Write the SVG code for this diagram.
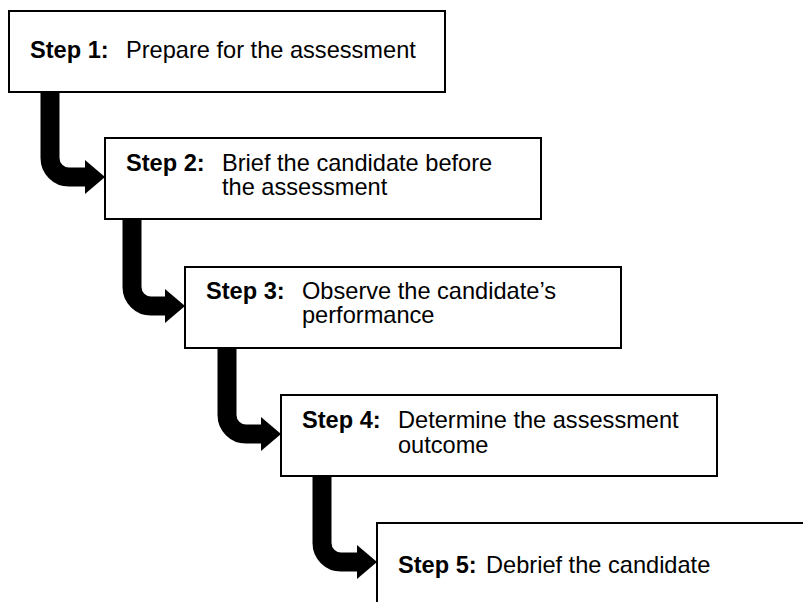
<svg xmlns="http://www.w3.org/2000/svg" width="803" height="602" viewBox="0 0 803 602">
<style>
.box{fill:#fff;stroke:#000;stroke-width:2}
.t{font-family:"Liberation Sans",Arial,sans-serif;font-size:23.6px;fill:#000}
.b{font-weight:bold}
.c{fill:none;stroke:#000;stroke-width:19;stroke-linecap:butt}
</style>
<defs>
<marker id="ah" markerUnits="userSpaceOnUse" markerWidth="21" markerHeight="34" refX="1" refY="17" orient="auto" viewBox="0 0 21 34">
<path d="M0,0 L20,17 L0,34 Z" fill="#000"/>
</marker>
</defs>
<rect width="803" height="602" fill="#fff"/>
<g id="connectors">
<path class="c" marker-end="url(#ah)" d="M50,91 V158 A19,19 0 0 0 69,177 H86"/>
<path class="c" marker-end="url(#ah)" d="M132,218 V287 A19,19 0 0 0 151,306 H166"/>
<path class="c" marker-end="url(#ah)" d="M227,346 V415 A19,19 0 0 0 246,434 H262"/>
<path class="c" marker-end="url(#ah)" d="M322,475 V543 A19,19 0 0 0 341,562 H358"/>
</g>
<g id="step1">
<rect class="box" x="9" y="11" width="436" height="81"/>
<text class="t b" x="30" y="58">Step 1:</text>
<text class="t" x="126" y="58">Prepare for the assessment</text>
</g>
<g id="step2">
<rect class="box" x="105" y="138" width="436" height="81"/>
<text class="t b" x="126" y="171">Step 2:</text>
<text class="t" x="222" y="171">Brief the candidate before</text>
<text class="t" x="222" y="195">the assessment</text>
</g>
<g id="step3">
<rect class="box" x="185" y="267" width="436" height="81"/>
<text class="t b" x="206" y="299">Step 3:</text>
<text class="t" x="302" y="299">Observe the candidate’s</text>
<text class="t" x="302" y="323">performance</text>
</g>
<g id="step4">
<rect class="box" x="281" y="395" width="436" height="81"/>
<text class="t b" x="302" y="428">Step 4:</text>
<text class="t" x="398" y="428">Determine the assessment</text>
<text class="t" x="398" y="453">outcome</text>
</g>
<g id="step5">
<rect class="box" x="377" y="523" width="440" height="100"/>
<text class="t b" x="398" y="573">Step 5:</text>
<text class="t" x="486" y="573">Debrief the candidate</text>
</g>
</svg>
